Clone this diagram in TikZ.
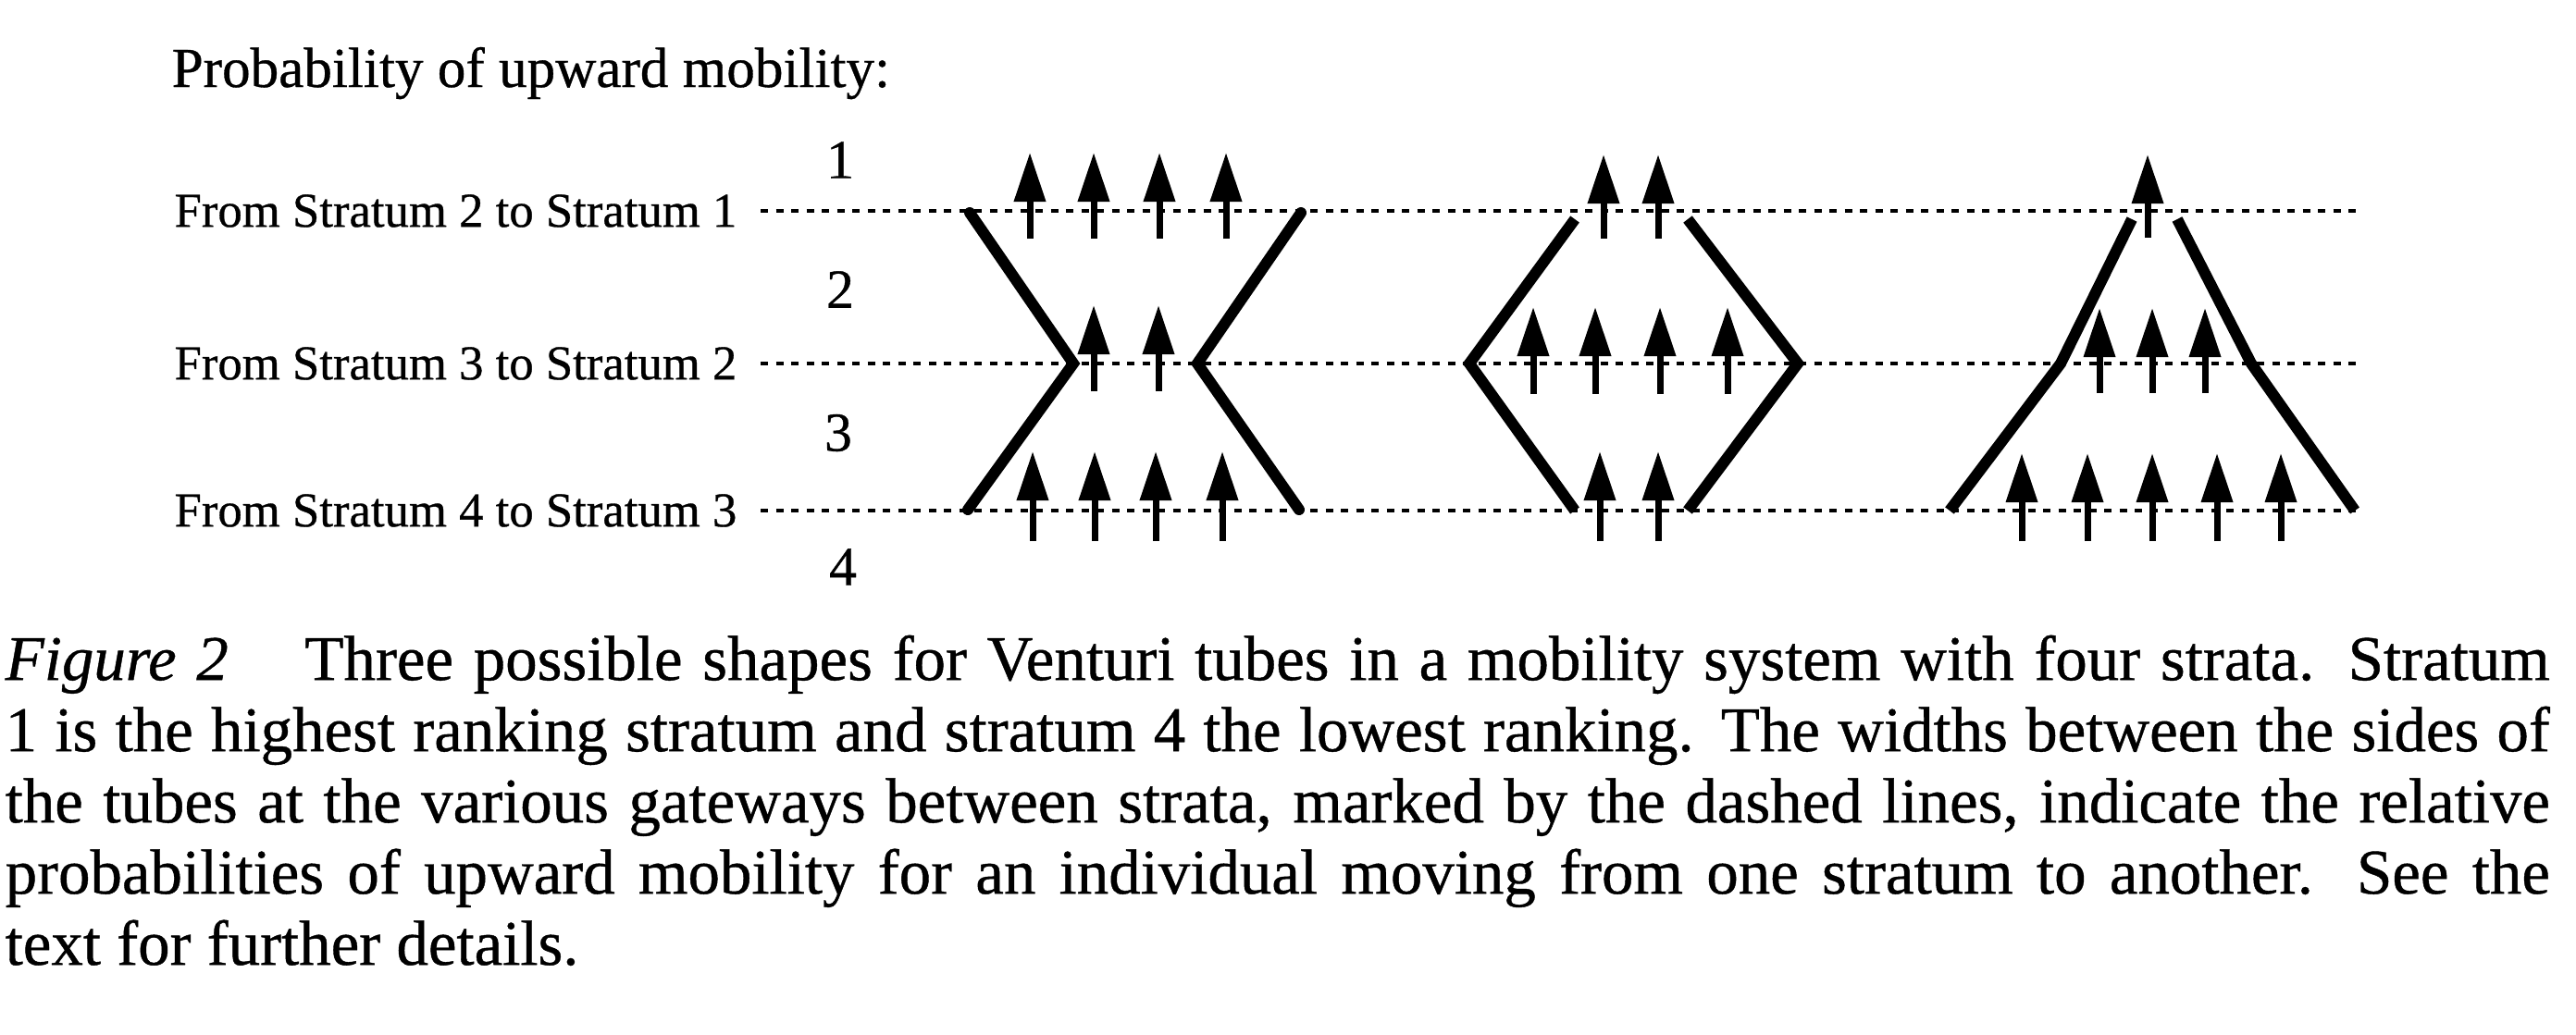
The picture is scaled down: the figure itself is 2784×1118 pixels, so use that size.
\documentclass[tikz,border=0pt]{standalone}
\usepackage{fontspec}
\setmainfont{Liberation Serif}[FakeBold=0.6]
\usetikzlibrary{arrows.meta, positioning}

\begin{document}
\begin{tikzpicture}[
  x=0.1mm, y=-0.1mm,
  gate/.style={line width=0.35mm, dash pattern=on 0.8mm off 0.85mm},
  wall/.style={line width=1.2mm, line join=miter},
  flow/.style={line width=0.7mm, -{Triangle[length=5.3mm, width=3.3mm]}},
  lbl/.style={anchor=east, inner sep=0pt, font=\fontsize{15}{18}\selectfont},
  num/.style={inner sep=0pt, font=\fontsize{17}{20}\selectfont},
]
  \useasboundingbox (0,0) rectangle (2784,1118);

  \node[anchor=base west, inner sep=0pt, font=\fontsize{17.4}{20}\selectfont]
    (title) at (185,94) {Probability of upward mobility:};

  % gateways
  \node[lbl] (g1) at (797,228) {From Stratum 2 to Stratum 1};
  \node[lbl] (g2) at (797,393) {From Stratum 3 to Stratum 2};
  \node[lbl] (g3) at (797,552) {From Stratum 4 to Stratum 3};
  \coordinate (g1e) at (2551,228);
  \coordinate (g2e) at (2551,393);
  \coordinate (g3e) at (2548,552);
  \draw[gate] ([xshift=2.5mm]g1.east) -- (g1e);
  \draw[gate] ([xshift=2.5mm]g2.east) -- (g2e);
  \draw[gate] ([xshift=2.5mm]g3.east) -- (g3e);

  % strata
  \node[num] (s1) at (908,173) {1};
  \node[num] (s2) at (908,313) {2};
  \node[num] (s3) at (906,468) {3};
  \node[num] (s4) at (911,613) {4};

  % tube 1: hourglass
  \draw[wall, line cap=round] (1048,230) -- (1160,393) -- (1046,551);
  \draw[wall, line cap=round] (1406,230) -- (1294,393) -- (1404,551);
  \foreach \x in {1113,1182,1253,1325} \draw[flow] (\x,258) -- (\x,165);
  \foreach \x in {1182,1252} \draw[flow] (\x,423) -- (\x,330);
  \foreach \x in {1116,1183,1249,1321} \draw[flow] (\x,585) -- (\x,488);

  % tube 2: diamond
  \draw[wall] (1702,237) -- (1588,393) -- (1702,552);
  \draw[wall] (1824,237) -- (1943,393) -- (1824,552);
  \foreach \x in {1733,1792} \draw[flow] (\x,258) -- (\x,167);
  \foreach \x in {1657,1724,1794,1867} \draw[flow] (\x,426) -- (\x,332);
  \foreach \x in {1729,1792} \draw[flow] (\x,585) -- (\x,488);

  % tube 3: triangle
  \draw[wall] (2304,237) -- (2227,393) -- (2107,552);
  \draw[wall] (2353,237) -- (2433,393) -- (2545,552);
  \draw[flow] (2321,257) -- (2321,167);
  \foreach \x in {2269,2326,2383} \draw[flow] (\x,425) -- (\x,333);
  \foreach \x in {2185,2256,2326,2396,2465} \draw[flow] (\x,585) -- (\x,490);

  \node[anchor=north west, inner sep=0pt, text width=275mm, align=justify,
        font=\fontsize{19.6}{21.9}\selectfont] (caption) at (5,686)
    {\hyphenpenalty=10000\exhyphenpenalty=10000
     \textit{Figure 2}\hspace{1.2em}Three possible shapes for Venturi tubes in a mobility system with four strata. Stratum\linebreak
     1 is the highest ranking stratum and stratum 4 the lowest ranking. The widths between the sides of\linebreak
     the tubes at the various gateways between strata, marked by the dashed lines, indicate the relative\linebreak
     probabilities of upward mobility for an individual moving from one stratum to another. See the\linebreak
     text for further details.};
\end{tikzpicture}
\end{document}
